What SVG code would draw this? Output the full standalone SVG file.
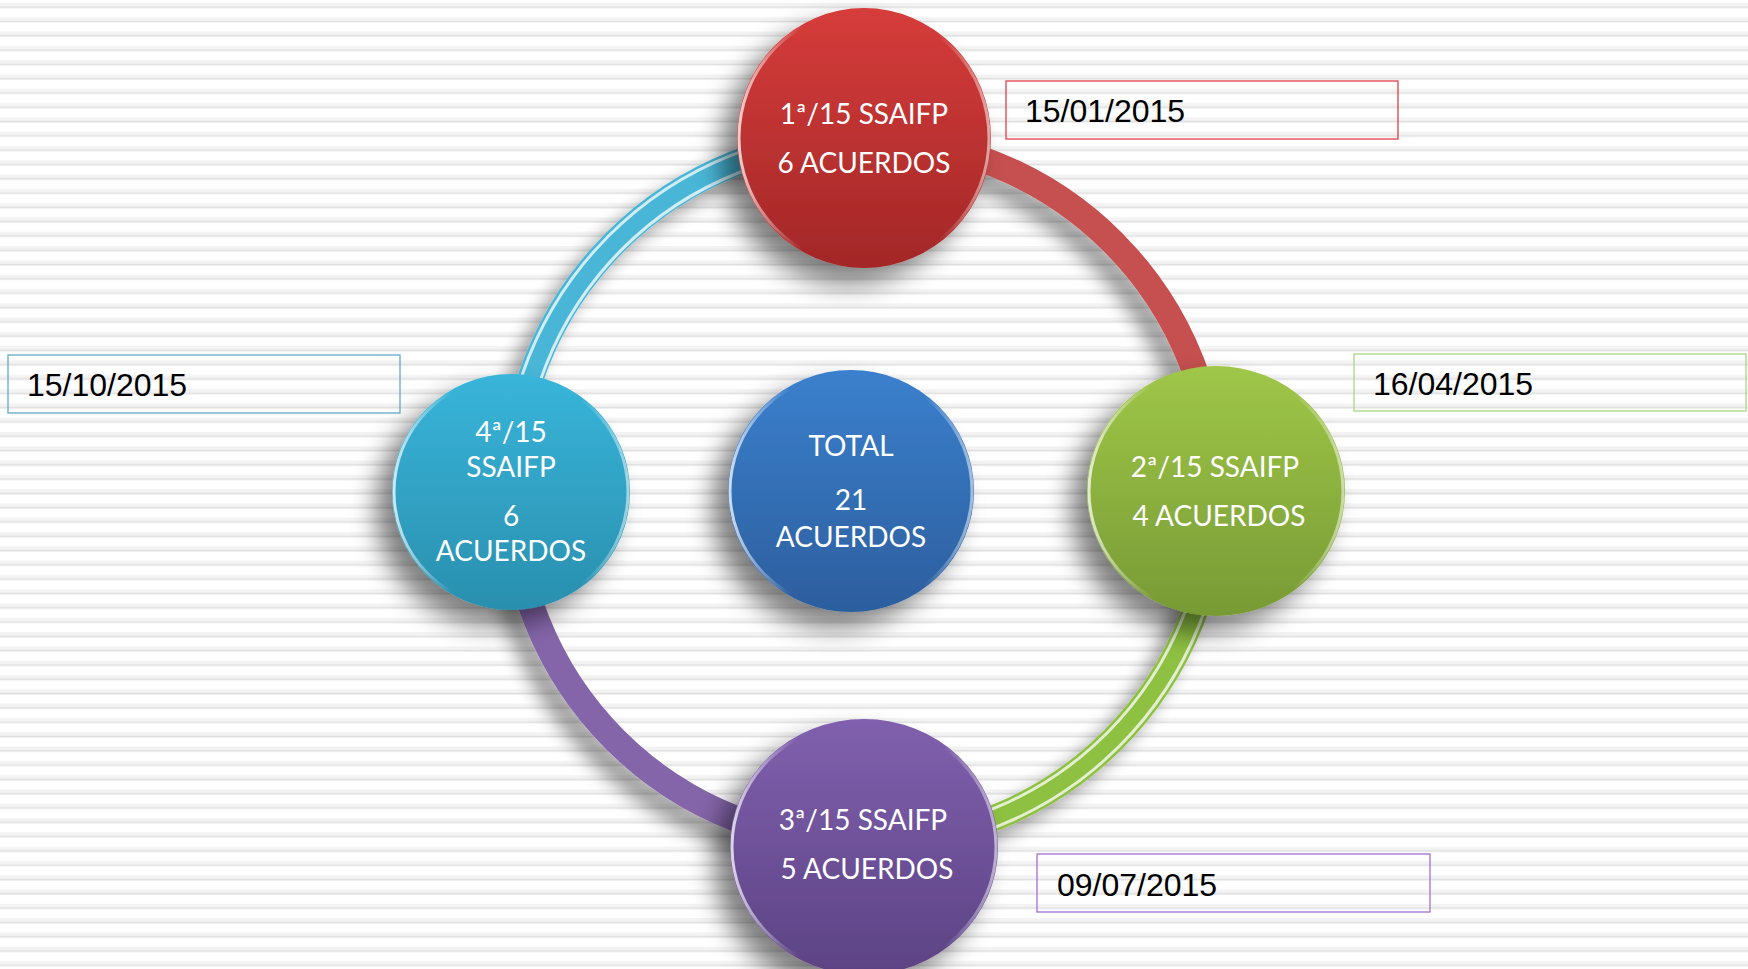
<svg xmlns="http://www.w3.org/2000/svg" width="1748" height="969" viewBox="0 0 1748 969">
<defs>
  <pattern id="stripes" x="0" y="0" width="40" height="14.3" patternUnits="userSpaceOnUse">
    <rect x="0" y="0" width="40" height="14.3" fill="#ffffff"/>
    <rect x="0" y="3" width="40" height="5" fill="#f3f3f3"/>
    <rect x="0" y="6.5" width="40" height="1.5" fill="#e0e0e0"/>
  </pattern>
  <filter id="shadow" x="-40%" y="-40%" width="180%" height="180%">
    <feGaussianBlur in="SourceAlpha" stdDeviation="13"/>
    <feOffset dx="-16" dy="16" result="b"/>
    <feComponentTransfer><feFuncA type="linear" slope="0.5"/></feComponentTransfer>
    <feMerge><feMergeNode/><feMergeNode in="SourceGraphic"/></feMerge>
  </filter>
  <filter id="ringshadow" x="-20%" y="-20%" width="140%" height="140%">
    <feGaussianBlur in="SourceAlpha" stdDeviation="9"/>
    <feOffset dx="-14" dy="14" result="b"/>
    <feComponentTransfer><feFuncA type="linear" slope="0.38"/></feComponentTransfer>
    <feMerge><feMergeNode/><feMergeNode in="SourceGraphic"/></feMerge>
  </filter>
  <linearGradient id="gRed" x1="0" y1="0" x2="0" y2="1">
    <stop offset="0" stop-color="#d63c3b"/><stop offset="1" stop-color="#a32727"/>
  </linearGradient>
  <linearGradient id="gGreen" x1="0" y1="0" x2="0" y2="1">
    <stop offset="0" stop-color="#9fc748"/><stop offset="1" stop-color="#789a35"/>
  </linearGradient>
  <linearGradient id="gPurple" x1="0" y1="0" x2="0" y2="1">
    <stop offset="0" stop-color="#8060ae"/><stop offset="1" stop-color="#5c4384"/>
  </linearGradient>
  <linearGradient id="gCyan" x1="0" y1="0" x2="0" y2="1">
    <stop offset="0" stop-color="#38b5da"/><stop offset="1" stop-color="#2a8fae"/>
  </linearGradient>
  <linearGradient id="gBlue" x1="0" y1="0" x2="0" y2="1">
    <stop offset="0" stop-color="#3b80cd"/><stop offset="1" stop-color="#2c5e9e"/>
  </linearGradient>
  <linearGradient id="rim" x1="0" y1="0" x2="1" y2="0">
    <stop offset="0" stop-color="#ffffff" stop-opacity="0.75"/>
    <stop offset="0.25" stop-color="#ffffff" stop-opacity="0"/>
    <stop offset="0.8" stop-color="#ffffff" stop-opacity="0"/>
    <stop offset="1" stop-color="#ffffff" stop-opacity="0.55"/>
  </linearGradient>
  <style>
    .arc { fill: none; stroke-width: 26; stroke-linecap: butt; }
    .hl { fill: none; stroke: #ffffff; stroke-width: 3; opacity: 0.75; }
    .rim { fill: none; stroke: url(#rim); stroke-width: 3; }
    .nt { font-family: Lato, "Open Sans", "Liberation Sans", sans-serif; font-size: 28px; fill: #ffffff; text-anchor: middle; }
    .box { fill: none; stroke-width: 1.3; }
    .dt { font-family: "Liberation Sans", Arial, sans-serif; font-size: 32px; fill: #000000; }
  </style>
</defs>

<rect x="0" y="0" width="1748" height="969" fill="url(#stripes)"/>

<g id="connectors" filter="url(#ringshadow)">
  <path class="arc" stroke="#4ab6d7" d="M 512 491 A 352 352 0 0 1 864 139"/>
  <path class="arc" stroke="#c64f4f" d="M 864 139 A 352 352 0 0 1 1216 491"/>
  <path class="arc" stroke="#8ec043" d="M 1216 491 A 352 352 0 0 1 864 843"/>
  <path class="arc" stroke="#8465a9" d="M 864 843 A 352 352 0 0 1 512 491"/>
  <path class="hl" d="M 522 491 A 342 342 0 0 1 864 149"/>
  <path class="hl" d="M 503 491 A 361 361 0 0 1 864 130" opacity="0.5"/>
  <path class="hl" d="M 1207 491 A 343 343 0 0 1 864 834"/>
  <path class="hl" d="M 1225 491 A 361 361 0 0 1 864 852" opacity="0.5"/>
</g>

<g id="node-total">
  <ellipse cx="851" cy="491" rx="123" ry="121" fill="url(#gBlue)" filter="url(#shadow)"/>
  <ellipse class="rim" cx="851" cy="491" rx="121" ry="119"/>
  <text class="nt" x="851" y="456">TOTAL</text>
  <text class="nt" x="851" y="510">21</text>
  <text class="nt" x="851" y="547">ACUERDOS</text>
</g>

<g id="node-1">
  <ellipse cx="864" cy="138" rx="127" ry="130" fill="url(#gRed)" filter="url(#shadow)"/>
  <ellipse class="rim" cx="864" cy="138" rx="125" ry="128"/>
  <text class="nt" x="864" y="124">1ª/15 SSAIFP</text>
  <text class="nt" x="864" y="173">6 ACUERDOS</text>
</g>

<g id="node-2">
  <ellipse cx="1216" cy="491" rx="129" ry="125" fill="url(#gGreen)" filter="url(#shadow)"/>
  <ellipse class="rim" cx="1216" cy="491" rx="127" ry="123"/>
  <text class="nt" x="1215" y="477">2ª/15 SSAIFP</text>
  <text class="nt" x="1219" y="526">4 ACUERDOS</text>
</g>

<g id="node-3">
  <ellipse cx="864" cy="847" rx="134" ry="128" fill="url(#gPurple)" filter="url(#shadow)"/>
  <ellipse class="rim" cx="864" cy="847" rx="132" ry="126"/>
  <text class="nt" x="863" y="830">3ª/15 SSAIFP</text>
  <text class="nt" x="867" y="879">5 ACUERDOS</text>
</g>

<g id="node-4">
  <ellipse cx="511" cy="492" rx="119" ry="118" fill="url(#gCyan)" filter="url(#shadow)"/>
  <ellipse class="rim" cx="511" cy="492" rx="117" ry="116"/>
  <text class="nt" x="511" y="442">4ª/15</text>
  <text class="nt" x="511" y="477">SSAIFP</text>
  <text class="nt" x="511" y="526">6</text>
  <text class="nt" x="511" y="561">ACUERDOS</text>
</g>

<g id="date-1">
  <rect class="box" x="1006" y="81" width="392" height="58" stroke="#e0404c"/>
  <text class="dt" x="1025" y="122">15/01/2015</text>
</g>
<g id="date-2">
  <rect class="box" x="1354" y="354" width="392" height="57" stroke="#a9d884"/>
  <text class="dt" x="1373" y="395">16/04/2015</text>
</g>
<g id="date-3">
  <rect class="box" x="1037" y="854" width="393" height="58" stroke="#a46fd6"/>
  <text class="dt" x="1057" y="896">09/07/2015</text>
</g>
<g id="date-4">
  <rect class="box" x="8" y="355" width="392" height="58" stroke="#62a9c9"/>
  <text class="dt" x="27" y="396">15/10/2015</text>
</g>
</svg>
